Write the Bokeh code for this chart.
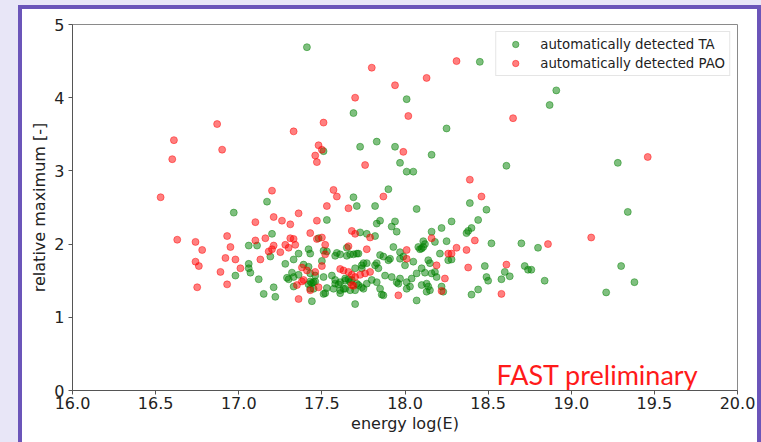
from bokeh.plotting import figure
from bokeh.models import (FixedTicker, NumeralTickFormatter, Legend,
                          LegendItem, Label, ColumnDataSource)
from bokeh.embed import file_html
from bokeh.resources import INLINE

# ---- data ----
ta_energy = [
    17.41, 18.45, 18.01, 17.69, 18.25, 18.91, 18.87, 17.94, 17.73, 17.83, 18.16, 17.97, 18.01, 18.05,
    18.61, 19.28, 17.51, 17.90, 18.39, 18.49, 18.07, 19.34, 17.17, 17.69, 17.71, 17.82, 16.97, 17.53,
    17.85, 17.83, 17.94, 17.92, 17.95, 18.28, 18.44, 18.40, 18.38, 18.37, 18.22, 18.16, 18.25, 18.18,
    18.11, 18.52, 18.70, 18.80, 17.20, 17.48, 17.73, 17.77, 17.82,
    17.06, 17.11, 17.06, 17.06, 17.07, 17.12, 16.98, 17.19, 17.15, 17.21, 17.22, 17.28, 17.30, 17.32,
    17.36, 17.33, 17.33, 17.36, 17.33, 17.39, 17.42, 17.42, 17.43, 17.42, 17.44, 17.46, 17.44, 17.51,
    17.52, 17.51, 17.53, 17.50, 17.51, 17.53, 17.56, 17.58, 17.59, 17.58, 17.60, 17.61, 17.65, 17.67,
    17.61, 17.63, 17.65, 17.66, 17.64, 17.67, 17.69, 17.71, 17.72, 17.68, 17.72, 17.70, 17.74, 17.74,
    17.82, 17.85, 17.87, 17.91, 17.90, 17.93, 17.97, 17.97, 17.99, 18.05, 18.00, 18.08, 18.10, 18.11,
    18.21, 17.43, 17.46, 17.43, 17.45, 17.43, 17.45, 17.75, 17.77, 17.74, 17.70, 17.83, 17.84, 17.58,
    17.61, 17.64, 17.67, 17.71, 17.77, 17.80, 17.57, 17.61, 17.64, 17.70, 17.75, 17.85, 17.87, 17.83,
    17.88, 17.92, 17.95, 17.97, 18.01, 18.04, 17.96, 18.01, 18.03, 18.07, 18.10, 18.13, 18.14, 18.13,
    18.15, 18.07, 18.10, 18.12, 18.16, 18.18, 18.19, 18.22, 18.23, 18.15, 18.14, 18.26, 18.28, 18.48,
    18.72, 18.74, 18.76, 18.49, 18.50, 18.60, 18.58, 18.63, 18.84, 18.40, 18.44, 19.30, 19.21, 19.38,
    18.09, 18.12, 17.86, 17.29,
]
ta_relmax = [
    4.69, 4.49, 3.98, 3.79, 3.58, 4.10, 3.90, 3.33, 3.33, 3.40, 3.22, 3.11, 2.99, 2.99,
    3.07, 3.11, 3.27, 2.75, 2.56, 2.47, 2.48, 2.44, 2.58, 2.64, 2.52, 2.52, 2.43, 2.33,
    2.32, 2.28, 2.31, 2.24, 2.17, 2.31, 2.33, 2.22, 2.18, 2.15, 2.22, 2.17, 2.04, 2.03,
    2.04, 2.01, 2.01, 1.95, 2.14, 2.08, 2.16, 2.14, 2.11,
    1.98, 1.98, 1.73, 1.67, 1.61, 1.52, 1.57, 1.83, 1.32, 1.41, 1.28, 1.73, 1.52, 1.61,
    1.58, 1.55, 1.79, 1.87, 1.42, 1.72, 1.69, 1.93, 1.87, 1.45, 1.47, 1.49, 1.22, 1.32,
    1.33, 1.91, 1.90, 1.77, 1.55, 1.40, 1.57, 1.84, 1.88, 1.46, 1.45, 1.86, 1.84, 1.86,
    1.33, 1.39, 1.95, 1.52, 1.50, 1.37, 1.86, 1.87, 1.87, 1.51, 1.44, 1.18, 1.41, 1.71,
    1.71, 1.85, 1.83, 1.80, 1.78, 1.96, 1.89, 1.80, 1.83, 1.76, 1.71, 1.96, 1.94, 1.96,
    1.87, 1.60, 1.57, 1.49, 1.48, 1.39, 1.39, 1.74, 1.74, 1.67, 1.67, 1.74, 1.67, 1.51,
    1.48, 1.53, 1.48, 1.46, 1.46, 1.51, 1.39, 1.37, 1.39, 1.37, 1.39, 1.39, 1.30, 1.48,
    1.57, 1.55, 1.48, 1.53, 1.48, 1.53, 1.46, 1.39, 1.42, 1.23, 1.44, 1.46, 1.42, 1.35,
    1.37, 1.60, 1.67, 1.61, 1.60, 1.62, 1.55, 1.42, 1.35, 1.74, 1.78, 1.78, 1.79, 1.70,
    1.70, 1.65, 1.65, 1.55, 1.50, 1.62, 1.52, 1.56, 1.50, 1.31, 1.38, 1.70, 1.34, 1.48,
    1.93, 2.00, 1.31, 1.54,
]
pao_energy = [
    17.80, 17.94, 18.13, 18.31, 17.70, 18.02, 18.65, 17.51, 16.87, 17.33, 16.61, 16.90, 17.48, 17.50,
    16.60, 17.46, 17.47, 17.76, 17.99, 19.46, 18.39, 17.87, 18.46, 16.53, 17.20, 17.57, 17.59, 17.53,
    17.66, 17.36, 17.21, 17.10, 17.26, 17.31, 17.47, 17.43, 17.68, 17.70, 17.79, 18.16, 18.42, 18.86,
    19.12, 16.63, 16.74, 16.78, 16.74, 16.76, 16.75, 16.93, 16.95, 16.92, 16.98, 16.89, 17.01, 16.93,
    17.10, 17.16, 17.18, 17.21, 17.13, 17.25, 17.28, 17.31, 17.33, 17.34, 17.30, 17.35, 17.36, 17.38,
    17.38, 17.46, 17.43, 17.47, 17.50, 17.50, 17.48, 17.52, 17.52, 17.61, 17.63, 17.66, 17.66, 17.68,
    17.70, 17.69, 17.73, 17.76, 17.79, 17.77, 17.68, 17.39, 17.41, 18.01, 18.01, 18.19, 18.26, 18.24,
    18.22, 17.96, 18.31, 18.37, 18.28, 18.38, 18.61, 18.58, 17.20,
]
pao_relmax = [
    4.41, 4.17, 4.27, 4.50, 4.00, 3.75, 3.72, 3.66, 3.64, 3.54, 3.42, 3.29, 3.35, 3.29,
    3.16, 3.21, 3.12, 3.08, 3.26, 3.19, 2.88, 2.65, 2.65, 2.64, 2.73, 2.74, 2.65, 2.52,
    2.49, 2.42, 2.37, 2.30, 2.32, 2.27, 2.32, 2.15, 2.18, 2.14, 2.09, 2.08, 2.05, 2.00,
    2.09, 2.06, 2.03, 1.92, 1.76, 1.70, 1.41, 2.11, 1.96, 1.81, 1.79, 1.62, 1.67, 1.45,
    2.05, 2.08, 1.90, 1.98, 1.79, 1.89, 1.99, 2.08, 2.07, 1.99, 1.95, 1.44, 1.25, 1.49,
    1.68, 1.62, 1.37, 2.07, 2.09, 1.70, 1.41, 1.99, 1.86, 1.66, 1.64, 1.97, 1.62, 1.58,
    1.55, 1.43, 1.58, 1.60, 1.62, 1.93, 1.44, 1.51, 1.64, 1.92, 1.80, 1.71, 1.87, 1.53,
    1.36, 1.30, 1.95, 1.92, 1.87, 1.68, 1.72, 1.32, 1.93,
]
series_names = ["automatically detected TA", "automatically detected PAO"]
x_ticks = [16.0, 16.5, 17.0, 17.5, 18.0, 18.5, 19.0, 19.5, 20.0]
y_ticks = [0, 1, 2, 3, 4, 5]
x_label = "energy log(E)"
y_label = "relative maximum [-]"
watermark = "FAST preliminary"
watermark_pos = (18.55, 0.22)

LAVENDER = "#e8e6f7"
PURPLE = "#6b55b9"
AX_FONT = "DejaVu Sans"

# page panel: lavender surround, purple frame, white inside (drawn with CSS behind a transparent canvas)
panel_css = {
    "background-color": LAVENDER,
    "background-image": f"linear-gradient(white, white), linear-gradient({PURPLE}, {PURPLE})",
    "background-size": "735px 440px, 743px 444px",
    "background-position": "22px 9px, 18px 5px",
    "background-repeat": "no-repeat",
}

p = figure(width=761, height=442, x_range=(16, 20), y_range=(0, 5),
           output_backend="svg", toolbar_location=None,
           min_border_left=72, min_border_right=24, min_border_top=24, min_border_bottom=52,
           styles=panel_css)
p.border_fill_alpha = 0
p.background_fill_color = "white"
p.outline_line_color = "#8a8a8a"
p.outline_line_width = 1

src_ta = ColumnDataSource(dict(x=ta_energy, y=ta_relmax))
src_pao = ColumnDataSource(dict(x=pao_energy, y=pao_relmax))
r_ta = p.scatter("x", "y", source=src_ta, size=7, marker="circle",
                 fill_color="green", fill_alpha=0.5, line_color="green", line_alpha=0.45, line_width=1)
r_pao = p.scatter("x", "y", source=src_pao, size=7, marker="circle",
                  fill_color="red", fill_alpha=0.5, line_color="red", line_alpha=0.45, line_width=1)

legend = Legend(items=[LegendItem(label=series_names[0], renderers=[r_ta]),
                       LegendItem(label=series_names[1], renderers=[r_pao])],
                location="top_right", margin=7, padding=4, spacing=3,
                glyph_width=30, glyph_height=16, label_standoff=10,
                label_text_font=AX_FONT, label_text_font_size="13.3px",
                label_text_color="#222222", label_height=16,
                border_line_color="#cccccc", border_line_width=1,
                background_fill_color="white", background_fill_alpha=0.8)
p.add_layout(legend)

p.xaxis.ticker = FixedTicker(ticks=x_ticks)
p.yaxis.ticker = FixedTicker(ticks=y_ticks)
p.xaxis.formatter = NumeralTickFormatter(format="0.0")
p.yaxis.formatter = NumeralTickFormatter(format="0")
p.xaxis.axis_label = x_label
p.yaxis.axis_label = y_label
for ax in (p.xaxis, p.yaxis):
    ax.axis_label_text_font = AX_FONT
    ax.axis_label_text_font_size = "16px"
    ax.axis_label_text_font_style = "normal"
    ax.axis_label_text_color = "#222222"
    ax.major_label_text_font = AX_FONT
    ax.major_label_text_font_size = "16px"
    ax.major_label_text_color = "#222222"
    ax.axis_line_color = "#555555"
    ax.major_tick_line_color = "#555555"
    ax.major_tick_out = 4
    ax.major_tick_in = 0
    ax.minor_tick_line_color = None
p.xaxis.major_label_standoff = 2
p.xaxis.axis_label_standoff = 2
p.yaxis.major_label_standoff = 4
p.yaxis.axis_label_standoff = 2
p.grid.visible = False

lab = Label(x=watermark_pos[0], y=watermark_pos[1], text=watermark,
            text_color="#ff1a1a", text_font="Lato", text_font_size="27px",
            text_baseline="alphabetic")
p.add_layout(lab)

open("out.html", "w").write(file_html(p, INLINE))
